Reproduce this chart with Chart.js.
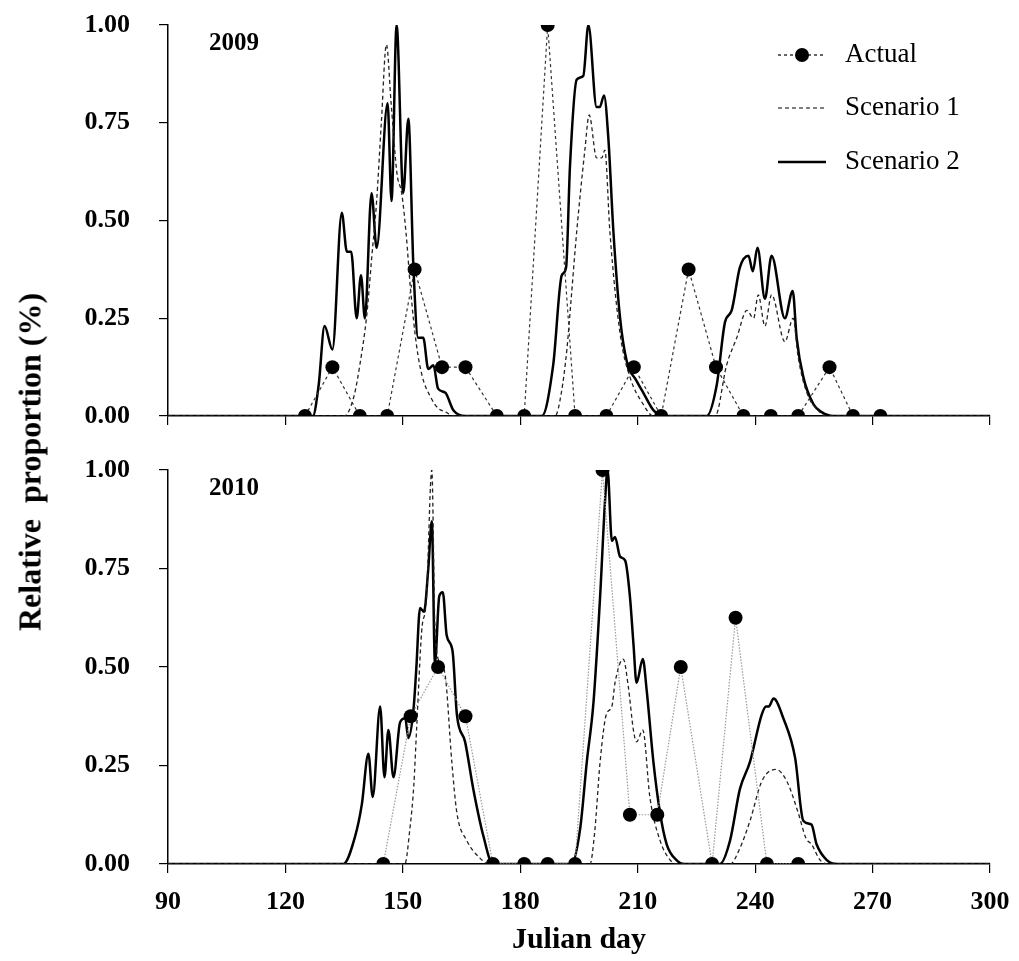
<!DOCTYPE html>
<html>
<head>
<meta charset="utf-8">
<script src="https://cdn.jsdelivr.net/npm/chart.js@4.4.1/dist/chart.umd.min.js"></script>
<style>
  body { margin: 0; background: #fff; }
  #wrap { position: relative; width: 1019px; height: 961px; overflow: hidden; }
  .panel { position: absolute; left: 0; width: 1019px; }
  #p1 { top: 0; height: 440px; }
  #p2 { top: 440px; height: 521px; }
  #ytitle {
    position: absolute; left: 30px; top: 462px;
    transform: translate(-50%, -50%) rotate(-90deg);
    font: bold 32px "Liberation Serif", serif; white-space: nowrap; color: #000;
  }
</style>
</head>
<body>
<div id="wrap">
  <div class="panel" id="p1"><canvas id="c2009"></canvas></div>
  <div class="panel" id="p2"><canvas id="c2010"></canvas></div>
  <div id="ytitle">Relative&nbsp; proportion (%)</div>
</div>
<script>
// x axis (Julian day) and y axis (relative proportion) ticks
const xTicks = [90, 120, 150, 180, 210, 240, 270, 300];
const yTicks = [0, 0.25, 0.5, 0.75, 1.0];

// 2009 - actual (weekly samples)
const actDays2009 = [125, 132, 139, 146, 153, 160, 166, 174, 181, 187, 194, 202, 209, 216, 223, 230, 237, 244, 251, 259, 265, 272];
const actVals2009 = [0, 0.125, 0, 0, 0.375, 0.125, 0.125, 0, 0, 1.0, 0, 0, 0.125, 0, 0.375, 0.125, 0, 0, 0, 0.125, 0, 0];

// 2009 - scenario 1
const s1Days2009 = [90, 135, 137.5, 139, 140.8, 142, 143.3, 144.5, 145.8, 147, 148.5, 149.7, 150.8, 152, 153.5, 155, 157, 159, 161, 163,
  188.9, 190.5, 191.9, 193, 194.4, 196.5, 197.6, 199.5, 200.8, 201.6, 202.9, 205.5, 208, 211.4, 214,
  229.8, 232.7, 235.3, 237.9, 239.6, 240.8, 242.5, 244.2, 247.6, 249.7, 251, 253.2, 256.5, 258, 300];
const s1Vals2009 = [0, 0, 0.05, 0.13, 0.26, 0.40, 0.55, 0.75, 0.95, 0.80, 0.62, 0.57, 0.47, 0.32, 0.18, 0.10, 0.05, 0.02, 0.01, 0,
  0, 0.06, 0.17, 0.30, 0.47, 0.68, 0.77, 0.66, 0.66, 0.68, 0.47, 0.21, 0.10, 0.03, 0,
  0, 0.13, 0.20, 0.27, 0.25, 0.31, 0.23, 0.31, 0.19, 0.25, 0.15, 0.06, 0.01, 0, 0];

// 2009 - scenario 2
const s2Days2009 = [90, 127, 128.5, 130, 132, 134.4, 135.7, 136.8, 138.2, 139.3, 140.3, 142, 143.3, 146.1, 147.1, 148.4, 150.1, 151.4, 152.7,
  153.9, 155.2, 156.5, 157.8, 159, 160.8, 162.9, 166,
  185.5, 188.4, 190.6, 191.7, 192.7, 194.4, 196.1, 197.4, 199.5, 200.3, 201.4, 202.5, 203.8, 205.5, 207.2, 209.7, 211.4, 214, 216.5,
  227.6, 230.2, 232.3, 234, 236.1, 238.3, 239.4, 240.6, 242.5, 244.2, 247.6, 249.6, 250.6, 252.3, 254.9, 257, 260, 300];
const s2Vals2009 = [0, 0, 0.08, 0.23, 0.17, 0.52, 0.42, 0.42, 0.25, 0.36, 0.25, 0.57, 0.43, 0.80, 0.55, 1.0, 0.57, 0.76, 0.38,
  0.20, 0.20, 0.12, 0.13, 0.07, 0.06, 0.015, 0,
  0, 0.13, 0.36, 0.38, 0.64, 0.86, 0.87, 1.0, 0.79, 0.79, 0.82, 0.71, 0.47, 0.25, 0.14, 0.09, 0.06, 0.015, 0,
  0, 0.08, 0.24, 0.27, 0.38, 0.41, 0.37, 0.43, 0.30, 0.41, 0.25, 0.32, 0.20, 0.10, 0.03, 0.01, 0, 0];

// 2010 - actual
const actDays2010 = [145, 152, 159, 166, 173, 181, 187, 194, 201, 208, 215, 221, 229, 235, 243, 251];
const actVals2010 = [0, 0.375, 0.5, 0.375, 0, 0, 0, 0, 1.0, 0.125, 0.125, 0.5, 0, 0.625, 0, 0];

// 2010 - scenario 1
const s1Days2010 = [90, 150.5, 151.8, 152.8, 153.5, 154.8, 156, 157.4, 158.2, 159.5, 160.8, 162.5, 163.8, 166.3, 169.7, 172,
  197.8, 199, 200.4, 202, 203.4, 204.2, 206.3, 207.6, 208.9, 209.7, 211.3, 213.1, 215.7, 218.3, 220,
  233.6, 236.1, 238.7, 241.7, 245.3, 248.1, 251, 253, 254.4, 256.6, 259, 300];
const s1Vals2010 = [0, 0, 0.09, 0.2, 0.34, 0.59, 0.67, 1.0, 0.6, 0.51, 0.48, 0.26, 0.13, 0.06, 0.015, 0,
  0, 0.08, 0.26, 0.38, 0.40, 0.46, 0.52, 0.45, 0.34, 0.31, 0.34, 0.17, 0.06, 0.01, 0,
  0, 0.04, 0.11, 0.21, 0.24, 0.21, 0.13, 0.065, 0.05, 0.01, 0, 0];

// 2010 - scenario 2
const s2Days2010 = [90, 134.8, 137.8, 139.5, 141.2, 142.3, 144.2, 145.3, 146.3, 147.6, 149.3, 150.6, 151.4, 152.7, 153.4, 154.4, 155.4,
  156.5, 157.4, 158.2, 159.3, 160.2, 161.2, 162.7, 163.8, 165.9, 168, 170.6, 173,
  193.1, 195.3, 197, 198.7, 200.4, 201.7, 202.3, 203.4, 204.2, 205.5, 206.8, 208, 208.9, 209.7, 211.3, 212.3, 214, 215.7, 217.4, 219.9, 222,
  231, 233.6, 236.1, 238.7, 241.7, 242.8, 243.5, 244.7, 247.2, 250.2, 252.3, 254.4, 255.7, 258.3, 261, 300];
const s2Vals2010 = [0, 0, 0.07, 0.15, 0.28, 0.17, 0.40, 0.22, 0.34, 0.22, 0.36, 0.37, 0.32, 0.39, 0.49, 0.65, 0.64,
  0.75, 0.87, 0.51, 0.68, 0.69, 0.58, 0.54, 0.38, 0.31, 0.19, 0.07, 0,
  0, 0.09, 0.26, 0.41, 0.68, 0.93, 1.0, 0.82, 0.83, 0.78, 0.77, 0.68, 0.56, 0.46, 0.52, 0.44, 0.26, 0.13, 0.05, 0.01, 0,
  0, 0.06, 0.19, 0.26, 0.38, 0.40, 0.40, 0.42, 0.37, 0.27, 0.11, 0.10, 0.05, 0.01, 0, 0];

const PLOT_LEFT = 168;
const PLOT_RIGHT = 990;

function toPoints(days, vals) {
    return days.map((d, i) => ({ x: d, y: vals[i] }));
}

// year label + (optionally) legend drawn on the canvas
function panelText(year, withLegend) {
    return {
        id: 'panelText' + year,
        afterDraw(chart) {
            const ctx = chart.ctx;
            ctx.save();
            ctx.fillStyle = '#000';
            ctx.font = 'bold 25px "Liberation Serif"';
            ctx.textBaseline = 'middle';
            ctx.textAlign = 'left';
            ctx.fillText(year, 209, chart.chartArea.top + 19);

            if (withLegend) {
                const x0 = 778, x1 = 826, tx = 845;
                const rows = [55, 108, 162];
                ctx.strokeStyle = '#000';
                // Actual
                ctx.lineWidth = 1.2;
                ctx.setLineDash([3, 3]);
                ctx.beginPath(); ctx.moveTo(x0, rows[0]); ctx.lineTo(x1, rows[0]); ctx.stroke();
                ctx.setLineDash([]);
                ctx.beginPath(); ctx.arc((x0 + x1) / 2, rows[0], 7, 0, Math.PI * 2); ctx.fill();
                // Scenario 1
                ctx.setLineDash([4, 3]);
                ctx.beginPath(); ctx.moveTo(x0, rows[1]); ctx.lineTo(x1, rows[1]); ctx.stroke();
                // Scenario 2
                ctx.setLineDash([]);
                ctx.lineWidth = 2.5;
                ctx.beginPath(); ctx.moveTo(x0, rows[2]); ctx.lineTo(x1, rows[2]); ctx.stroke();

                ctx.font = '27px "Liberation Serif"';
                ctx.fillText('Actual', tx, rows[0]);
                ctx.fillText('Scenario 1', tx, rows[1]);
                ctx.fillText('Scenario 2', tx, rows[2]);
            }
            ctx.restore();
        }
    };
}

function makeChart(canvasId, opts) {
    const datasets = [
        {
            label: 'Actual',
            data: toPoints(opts.actDays, opts.actVals),
            borderColor: opts.actColor,
            borderWidth: 1.2,
            borderDash: opts.actDash,
            pointRadius: 7,
            pointBackgroundColor: '#000',
            pointBorderColor: '#000',
            pointBorderWidth: 0,
            tension: 0
        },
        {
            label: 'Scenario 1',
            data: toPoints(opts.s1Days, opts.s1Vals),
            borderColor: '#222',
            borderWidth: 1.3,
            borderDash: [4, 3],
            pointRadius: 0,
            cubicInterpolationMode: 'monotone'
        },
        {
            label: 'Scenario 2',
            data: toPoints(opts.s2Days, opts.s2Vals),
            borderColor: '#000',
            borderWidth: 2.5,
            pointRadius: 0,
            cubicInterpolationMode: 'monotone'
        }
    ];

    return new Chart(document.getElementById(canvasId), {
        type: 'line',
        data: { datasets: datasets },
        options: {
            responsive: true,
            maintainAspectRatio: false,
            animation: false,
            layout: { padding: { top: opts.padTop, right: 1019 - PLOT_RIGHT, bottom: opts.padBottom, left: 0 } },
            plugins: { legend: { display: false }, tooltip: { enabled: false } },
            scales: {
                x: {
                    type: 'linear',
                    min: 90,
                    max: 300,
                    afterBuildTicks: (s) => { s.ticks = xTicks.map(v => ({ value: v })); },
                    afterFit: (s) => {
                        s.height = opts.xHeight;
                        s.paddingLeft = 0;
                        s.paddingRight = 0;
                    },
                    border: { display: true, color: '#000', width: 1.5 },
                    grid: { drawOnChartArea: false, drawTicks: true, tickLength: 9, color: '#000', lineWidth: 1.2 },
                    ticks: {
                        display: opts.showXLabels,
                        color: '#000',
                        padding: 14,
                        maxRotation: 0,
                        font: { family: 'Liberation Serif', weight: 'bold', size: 26 }
                    },
                    title: {
                        display: opts.showXLabels,
                        text: 'Julian day',
                        color: '#000',
                        padding: 0,
                        font: { family: 'Liberation Serif', weight: 'bold', size: 30 }
                    }
                },
                y: {
                    min: 0,
                    max: 1,
                    afterBuildTicks: (s) => { s.ticks = yTicks.map(v => ({ value: v })); },
                    afterFit: (s) => {
                        s.width = PLOT_LEFT;
                        s.paddingTop = 0;
                        s.paddingBottom = 0;
                    },
                    border: { display: true, color: '#000', width: 1.5 },
                    grid: { drawOnChartArea: false, drawTicks: true, tickLength: 9, color: '#000', lineWidth: 1.2 },
                    ticks: {
                        color: '#000',
                        padding: 29,
                        callback: (v) => Number(v).toFixed(2),
                        font: { family: 'Liberation Serif', weight: 'bold', size: 26 }
                    }
                }
            }
        },
        plugins: [panelText(opts.year, opts.legend)]
    });
}

makeChart('c2009', {
    year: '2009', legend: true,
    actDays: actDays2009, actVals: actVals2009, actColor: '#333', actDash: [3, 3],
    s1Days: s1Days2009, s1Vals: s1Vals2009,
    s2Days: s2Days2009, s2Vals: s2Vals2009,
    padTop: 25, padBottom: 0, xHeight: 24, showXLabels: false
});

makeChart('c2010', {
    year: '2010', legend: false,
    actDays: actDays2010, actVals: actVals2010, actColor: '#999', actDash: [1.5, 1.5],
    s1Days: s1Days2010, s1Vals: s1Vals2010,
    s2Days: s2Days2010, s2Vals: s2Vals2010,
    padTop: 30, padBottom: 3, xHeight: 94, showXLabels: true
});
</script>
</body>
</html>
